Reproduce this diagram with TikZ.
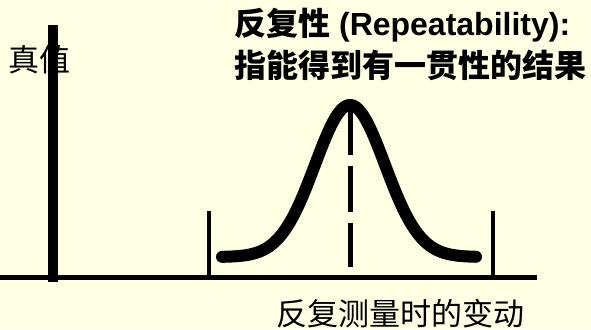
\documentclass[tikz,border=0pt]{standalone}
\usepackage{fontspec}
\setmainfont{Liberation Sans}
\newfontfamily\cjk{Noto Sans CJK SC}
\definecolor{bg}{RGB}{255,255,228}
\begin{document}
\begin{tikzpicture}[x=1pt,y=-1pt,
  axisline/.style={line width=4.5pt},
  tick/.style={line width=4.5pt},
  truebar/.style={line width=10pt},
  bell/.style={line width=12pt,line cap=round,line join=round},
  meanline/.style={line width=5pt,dash pattern=on 46pt off 11pt},
  lbl/.style={inner sep=0pt,font=\fontsize{31}{42}\selectfont},
  ttl/.style={inner sep=0pt,font=\fontsize{32}{42}\selectfont}]
\fill[bg] (0,0) rectangle (591,329);
\useasboundingbox (0,0) rectangle (591,329);
% axis
\coordinate (a0) at (0,277.5);
\coordinate (a1) at (537,277.5);
\draw[axisline] (a0) -- (a1);
% true value bar
\coordinate (t0) at (53,25);
\coordinate (t1) at (53,282);
\draw[truebar] (t0) -- (t1);
% limit ticks
\coordinate (l0) at (209,211);
\coordinate (l1) at (209,277);
\coordinate (r0) at (493,211);
\coordinate (r1) at (493,277);
\draw[tick] (l0) -- (l1);
\draw[tick] (r0) -- (r1);
% bell curve
\draw[bell] plot[domain=222:476,samples=120,smooth] (\x,{257-152*exp(-((\x-350)/35)^2/2)});
% mean line
\coordinate (m0) at (350,109);
\coordinate (m1) at (350,267);
\draw[meanline] (m0) -- (m1);
% labels
\node[lbl,anchor=west] (tv) at (8,60) {\cjk 真值};
\node[ttl,anchor=north west,align=left] (title) at (234,8)
  {{\cjk\bfseries 反复性} \textbf{(Repeatability):}\\{\cjk\bfseries 指能得到有一贯性的结果}};
\node[lbl,anchor=center] (var) at (400,314) {\cjk 反复测量时的变动};
\end{tikzpicture}
\end{document}
